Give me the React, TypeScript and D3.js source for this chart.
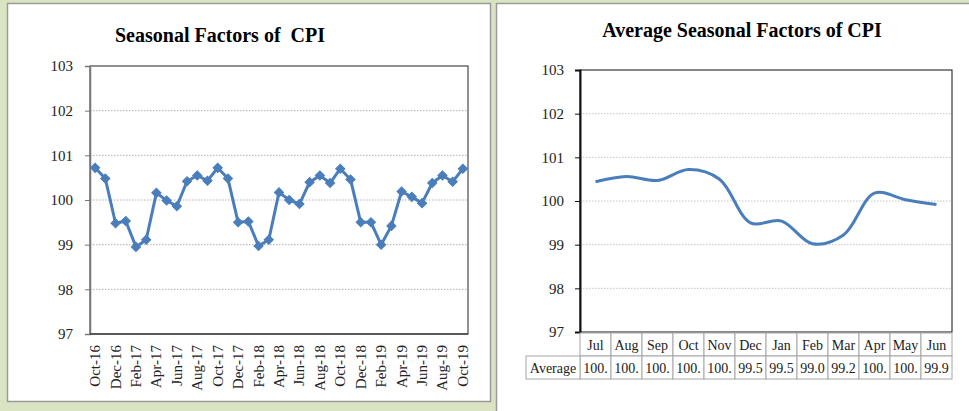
import { useEffect, useRef } from 'react'
import * as d3 from 'd3'

// Monthly seasonal factors, Oct-16 .. Oct-19
const monthStart = new Date(2016, 9, 1)
const monthLabels: string[] = d3.timeMonths(monthStart, new Date(2019, 10, 1)).map(d3.timeFormat('%b-%y'))
const seasonalValues: number[] = [
  100.72, 100.48, 99.48, 99.53, 98.95, 99.11, 100.16, 99.99, 99.86, 100.42, 100.55, 100.43,
  100.72, 100.48, 99.5, 99.52, 98.97, 99.11, 100.17, 100.0, 99.91, 100.4, 100.55, 100.38,
  100.7, 100.46, 99.5, 99.5, 99.0, 99.42, 100.19, 100.07, 99.93, 100.38, 100.55, 100.41,
  100.7
]

// Average factor by month (fiscal year order)
const avgMonths: string[] = ['Jul', 'Aug', 'Sep', 'Oct', 'Nov', 'Dec', 'Jan', 'Feb', 'Mar', 'Apr', 'May', 'Jun']
const avgValues: number[] = [100.44, 100.56, 100.47, 100.72, 100.5, 99.5, 99.54, 99.02, 99.22, 100.18, 100.03, 99.92]

const yTicks: number[] = [97, 98, 99, 100, 101, 102, 103]

const BLUE = '#4a7ebb'
const SERIF = '"Liberation Serif", "Times New Roman", serif'

export default function App() {
  const svgRef = useRef<SVGSVGElement>(null)

  useEffect(() => {
    if (!svgRef.current) return
    const svg = d3.select(svgRef.current)
    svg.selectAll('*').remove()

    // background + panels
    svg.append('rect').attr('width', 969).attr('height', 411).attr('fill', '#dae4c3')
    svg.append('rect').attr('x', 7.5).attr('y', 3.5).attr('width', 483).attr('height', 398)
      .attr('fill', '#fff').attr('stroke', '#9a9a9a').attr('stroke-width', 1.5)
    svg.append('rect').attr('x', 496.5).attr('y', 3.5).attr('width', 480).attr('height', 420)
      .attr('fill', '#fff').attr('stroke', '#9a9a9a').attr('stroke-width', 1.5)

    // ---------- left chart ----------
    const L = { left: 90, right: 468, top: 66, bottom: 334 }
    const x1 = d3.scaleBand<string>().domain(monthLabels).range([L.left, L.right])
    const y1 = d3.scaleLinear().domain([97, 103]).range([L.bottom, L.top])
    const g1 = svg.append('g')

    g1.append('text')
      .attr('x', 220).attr('y', 42)
      .attr('text-anchor', 'middle')
      .style('font-family', SERIF).style('font-size', '20px').style('font-weight', 'bold')
      .attr('xml:space', 'preserve')
      .text('Seasonal Factors of  CPI')

    g1.selectAll('line.grid').data(yTicks.slice(1, -1)).join('line')
      .attr('class', 'grid')
      .attr('x1', L.left).attr('x2', L.right)
      .attr('y1', d => y1(d)).attr('y2', d => y1(d))
      .attr('stroke', '#b0b0b0').attr('stroke-dasharray', '1.5,1.5')

    g1.append('rect')
      .attr('x', L.left).attr('y', L.top)
      .attr('width', L.right - L.left).attr('height', L.bottom - L.top)
      .attr('fill', 'none').attr('stroke', '#222').attr('stroke-width', 1)

    const yAxis1 = g1.append('g')
      .attr('transform', `translate(${L.left},0)`)
      .call(d3.axisLeft(y1).tickValues(yTicks).tickSize(5).tickPadding(12).tickFormat(d3.format('d')))
    yAxis1.select('.domain').attr('stroke', '#777').attr('stroke-width', 1.5)
    yAxis1.selectAll('line').attr('stroke', '#777')
    yAxis1.selectAll('text').style('font-family', SERIF).style('font-size', '15px').attr('fill', '#222')

    g1.append('line')
      .attr('x1', L.left).attr('x2', L.right).attr('y1', L.bottom).attr('y2', L.bottom)
      .attr('stroke', '#222').attr('stroke-width', 1.2)

    g1.selectAll('text.xl').data(monthLabels.filter((_, i) => i % 2 === 0)).join('text')
      .attr('class', 'xl')
      .attr('transform', d => `translate(${(x1(d) ?? 0) + x1.bandwidth() / 2 + 5},${L.bottom + 11}) rotate(-90)`)
      .attr('text-anchor', 'end')
      .style('font-family', SERIF).style('font-size', '15px').attr('fill', '#222')
      .text(d => d)

    const line1 = d3.line<number>()
      .x((_, i) => (x1(monthLabels[i]) ?? 0) + x1.bandwidth() / 2)
      .y(d => y1(d))

    g1.append('path').datum(seasonalValues)
      .attr('fill', 'none').attr('stroke', BLUE).attr('stroke-width', 3)
      .attr('stroke-linejoin', 'round')
      .attr('d', line1)

    const diamond = d3.symbol(d3.symbolSquare, 42)
    g1.selectAll('path.mk').data(seasonalValues).join('path')
      .attr('class', 'mk')
      .attr('d', diamond)
      .attr('transform', (d, i) => `translate(${(x1(monthLabels[i]) ?? 0) + x1.bandwidth() / 2},${y1(d)}) rotate(45)`)
      .attr('fill', BLUE).attr('stroke', BLUE)

    // ---------- right chart ----------
    const R = { left: 580, right: 952, top: 70, bottom: 332 }
    const x2 = d3.scaleBand<string>().domain(avgMonths).range([R.left, R.right])
    const y2 = d3.scaleLinear().domain([97, 103]).range([R.bottom, R.top])
    const g2 = svg.append('g')

    g2.append('text')
      .attr('x', 742).attr('y', 37)
      .attr('text-anchor', 'middle')
      .style('font-family', SERIF).style('font-size', '20px').style('font-weight', 'bold')
      .text('Average Seasonal Factors of CPI')

    g2.selectAll('line.grid').data(yTicks.slice(1, -1)).join('line')
      .attr('class', 'grid')
      .attr('x1', R.left).attr('x2', R.right)
      .attr('y1', d => y2(d)).attr('y2', d => y2(d))
      .attr('stroke', '#c4c4c4').attr('stroke-dasharray', '1.5,1.5')

    g2.append('rect')
      .attr('x', R.left).attr('y', R.top)
      .attr('width', R.right - R.left).attr('height', R.bottom - R.top)
      .attr('fill', 'none').attr('stroke', '#111').attr('stroke-width', 1)

    const yAxis2 = g2.append('g')
      .attr('transform', `translate(${R.left},0)`)
      .call(d3.axisLeft(y2).tickValues(yTicks).tickSize(5).tickPadding(11).tickFormat(d3.format('d')))
    yAxis2.select('.domain').attr('stroke', '#111').attr('stroke-width', 2)
    yAxis2.selectAll('line').attr('stroke', '#111')
    yAxis2.selectAll('text').style('font-family', SERIF).style('font-size', '15px').attr('fill', '#222')

    // data table under the axis
    const rowH = 23
    const tableTop = R.bottom + 1
    const labelLeft = 526
    const tbl = g2.append('g')
    tbl.selectAll('rect.hd').data(avgMonths).join('rect')
      .attr('class', 'hd')
      .attr('x', d => x2(d) ?? 0).attr('y', tableTop)
      .attr('width', x2.bandwidth()).attr('height', rowH)
      .attr('fill', '#fff').attr('stroke', '#a6a6a6')
    tbl.selectAll('rect.vl').data(avgMonths).join('rect')
      .attr('class', 'vl')
      .attr('x', d => x2(d) ?? 0).attr('y', tableTop + rowH)
      .attr('width', x2.bandwidth()).attr('height', rowH)
      .attr('fill', '#fff').attr('stroke', '#a6a6a6')
    tbl.append('rect')
      .attr('x', labelLeft).attr('y', tableTop + rowH)
      .attr('width', R.left - labelLeft).attr('height', rowH)
      .attr('fill', '#fff').attr('stroke', '#a6a6a6')
    tbl.append('text')
      .attr('x', (labelLeft + R.left) / 2).attr('y', tableTop + rowH + 17)
      .attr('text-anchor', 'middle')
      .style('font-family', SERIF).style('font-size', '14px').attr('fill', '#222')
      .text('Average')
    tbl.selectAll('text.hd').data(avgMonths).join('text')
      .attr('class', 'hd')
      .attr('x', d => (x2(d) ?? 0) + x2.bandwidth() / 2).attr('y', tableTop + 16.5)
      .attr('text-anchor', 'middle')
      .style('font-family', SERIF).style('font-size', '14px').attr('fill', '#222')
      .text(d => d)
    tbl.selectAll('text.vl').data(avgValues).join('text')
      .attr('class', 'vl')
      .attr('x', (_, i) => (x2(avgMonths[i]) ?? 0) + x2.bandwidth() / 2).attr('y', tableTop + rowH + 17)
      .attr('text-anchor', 'middle')
      .style('font-family', SERIF).style('font-size', '14px').attr('fill', '#222')
      .text(d => d3.format('.2f')(d).slice(0, 4))

    const line2 = d3.line<number>()
      .x((_, i) => (x2(avgMonths[i]) ?? 0) + x2.bandwidth() / 2)
      .y(d => y2(d))
      .curve(d3.curveCatmullRom.alpha(0.5))

    g2.append('path').datum(avgValues)
      .attr('fill', 'none').attr('stroke', BLUE).attr('stroke-width', 3)
      .attr('stroke-linecap', 'butt')
      .attr('d', line2)
  }, [])

  return (
    <svg
      ref={svgRef}
      width={969}
      height={411}
      style={{ position: 'absolute', left: 0, top: 0, display: 'block' }}
    />
  )
}
